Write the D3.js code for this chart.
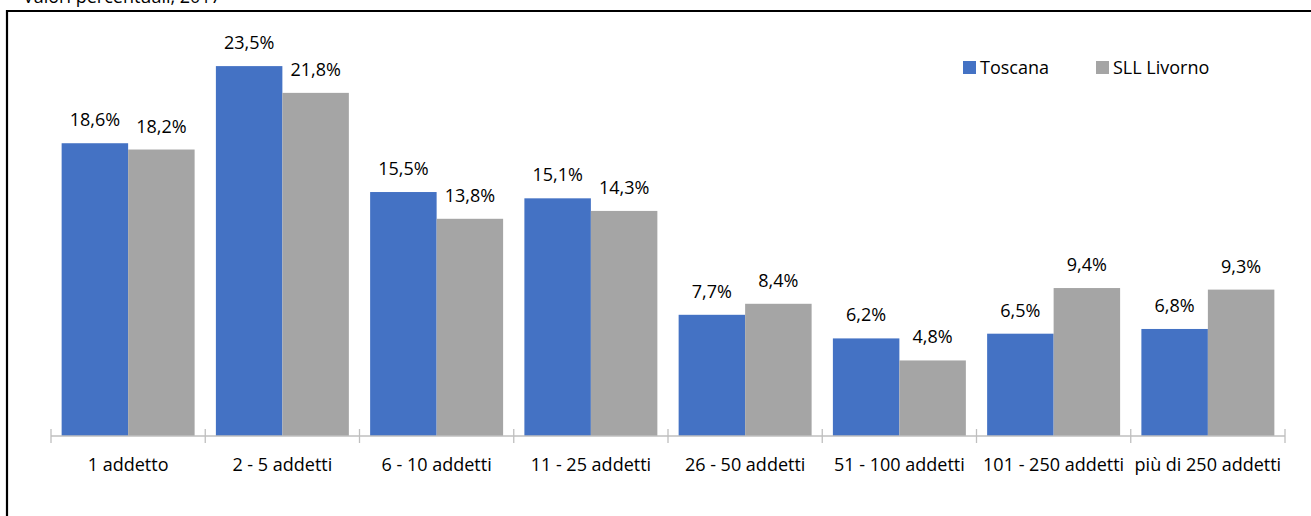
<!DOCTYPE html>
<html>
<head>
<meta charset="utf-8">
<script src="https://cdn.jsdelivr.net/npm/d3@7"></script>
<style>
  html, body { margin: 0; padding: 0; background: #fff; }
  svg { display: block; font-family: "Open Sans", sans-serif; }
</style>
</head>
<body>
<svg id="chart" width="1311" height="516"></svg>
<script>
// Imprese per classe di addetti — valori percentuali, 2017
const categories = ["1 addetto", "2 - 5 addetti", "6 - 10 addetti", "11 - 25 addetti",
                    "26 - 50 addetti", "51 - 100 addetti", "101 - 250 addetti", "più di 250 addetti"];
const seriesNames = ["Toscana", "SLL Livorno"];
const toscana = [18.6, 23.5, 15.5, 15.1, 7.7, 6.2, 6.5, 6.8];
const livorno = [18.2, 21.8, 13.8, 14.3, 8.4, 4.8, 9.4, 9.3];
const colors = ["#4472C4", "#A5A5A5"];

const svg = d3.select("#chart");
const W = 1311, H = 516;
const plot = { left: 51, right: 1285, top: 42.5, bottom: 436 };

// frame around the chart area
svg.append("path")
  .attr("d", `M7,${H + 2} V11 H${W + 2}`)
  .attr("fill", "none")
  .attr("stroke", "#000")
  .attr("stroke-width", 2.2);

// subtitle, partly above the frame
svg.append("text")
  .attr("x", 23).attr("y", 3)
  .attr("font-size", 18)
  .attr("fill", "#000")
  .text("Valori percentuali, 2017");

const x0 = d3.scaleBand().domain(categories).range([plot.left, plot.right]).paddingInner(0).paddingOuter(0);
const x1 = d3.scaleBand().domain(seriesNames).range([0, x0.bandwidth()]).paddingInner(0).paddingOuter(0.16);
const y = d3.scaleLinear().domain([0, 25]).range([plot.bottom, plot.top]);

const rows = categories.map((c, i) => ({ cat: c, vals: [toscana[i], livorno[i]] }));
const fmt = v => d3.format(".1f")(v).replace(".", ",") + "%";

const groups = svg.append("g").selectAll("g")
  .data(rows).join("g")
  .attr("transform", d => `translate(${x0(d.cat)},0)`);

const cells = groups.selectAll("g")
  .data(d => d.vals.map((v, j) => ({ name: seriesNames[j], v, j })))
  .join("g");

cells.append("rect")
  .attr("x", d => x1(d.name))
  .attr("y", d => y(d.v))
  .attr("width", x1.bandwidth())
  .attr("height", d => plot.bottom - y(d.v))
  .attr("fill", d => colors[d.j]);

cells.append("text")
  .attr("x", d => x1(d.name) + x1.bandwidth() / 2)
  .attr("y", d => y(d.v) - 17)
  .attr("text-anchor", "middle")
  .attr("font-size", 18)
  .attr("fill", "#000")
  .text(d => fmt(d.v));

// category axis with ticks at band boundaries
const axisG = svg.append("g").attr("transform", `translate(0,${plot.bottom})`);
axisG.append("line")
  .attr("x1", plot.left).attr("x2", plot.right)
  .attr("stroke", "#bfbfbf").attr("stroke-width", 1.3);
const tickPos = categories.map(c => x0(c)).concat([x0(categories[categories.length - 1]) + x0.bandwidth()]);
axisG.selectAll("line.tick").data(tickPos).join("line")
  .attr("class", "tick")
  .attr("x1", d => d).attr("x2", d => d)
  .attr("y1", -7).attr("y2", 7)
  .attr("stroke", "#bfbfbf").attr("stroke-width", 1.3);
axisG.selectAll("text").data(categories).join("text")
  .attr("x", d => x0(d) + x0.bandwidth() / 2)
  .attr("y", 35)
  .attr("text-anchor", "middle")
  .attr("font-size", 18)
  .attr("fill", "#000")
  .text(d => d);

// legend
const legendItems = [{ name: seriesNames[0], x: 963 }, { name: seriesNames[1], x: 1096 }];
const lg = svg.append("g").selectAll("g").data(legendItems).join("g")
  .attr("transform", d => `translate(${d.x},61)`);
lg.append("rect").attr("width", 13).attr("height", 13)
  .attr("fill", (d, i) => colors[i]);
lg.append("text").attr("x", 17).attr("y", 12.5)
  .attr("font-size", 18).attr("fill", "#000")
  .text(d => d.name);
</script>
</body>
</html>
